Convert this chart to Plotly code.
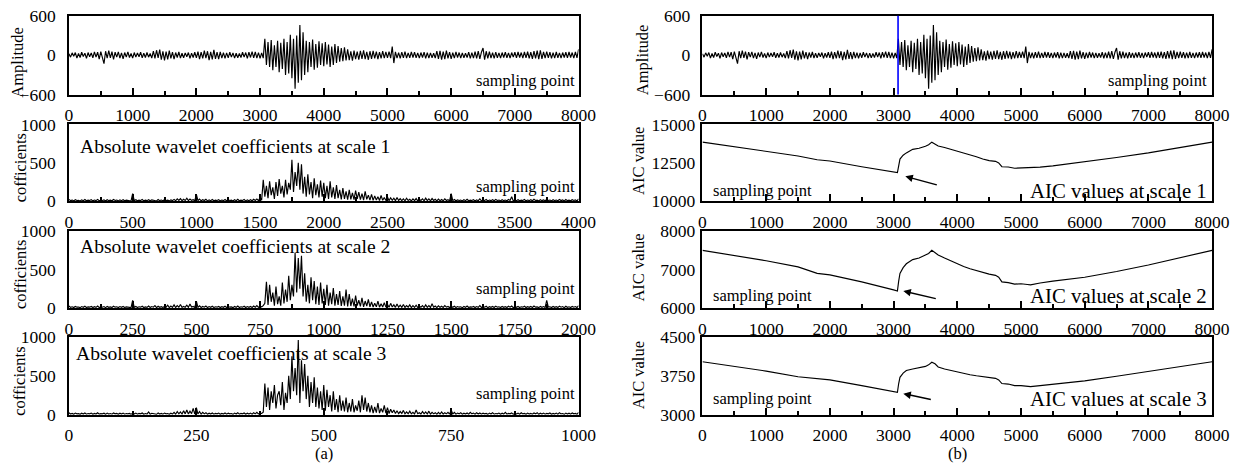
import plotly.graph_objects as go

# ---------------------------------------------------------------- data
# raw microseismic waveform, one value every 25 samples (0 ... 8000)
wave_x = [i * 25 for i in range(321)]
wave_amp = [
    20, -30, 35, -15, 40, -45, 25, -35, 45, -20, 30, -50, 40, -25, 35, -40,
    50, -30, 45, -60, 55, -35, -130, 60, -45, 70, -40, 55, -65, 45, -30, 50,
    -45, 35, -55, 40, -30, 50, -35, 25, -45, 40, -30, 35, -25, 45, -40, 30,
    -35, 40, -30, 25, -45, 60, -50, 75, -40, 85, -70, 60, -80, 55, -65, 70,
    -50, 45, -60, 40, -35, 50, -45, 30, -40, 35, -25, 40, -50, 30, -35, 45,
    -40, 55, -60, 45, -50, 70, -45, 60, -75, 50, -65, 80, -55, 45, -60, 50,
    -45, 40, -50, 35, -40, 45, -30, 35, -45, 30, -40, 25, -35, 45, -30, 40,
    -50, 45, -35, 55, -40, 50, -45, 40, -50, 35, -45, 250, -150, 200, -180, 230,
    -230, 150, -180, 220, -260, 190, -210, 250, -300, 200, -280, 310, -350, 250, -510, 300,
    -420, 460, -380, 350, -300, 220, -260, 200, -180, 240, -220, 170, -190, 210, -150, 180,
    -170, 200, -140, 160, -180, 130, -150, 170, -120, 140, -100, 110, -90, 120, -80, 90,
    -75, 60, -85, 70, -60, 55, -70, 65, -55, 75, -60, 50, -70, 60, -55, 65,
    -50, 55, -60, 45, -50, 60, -45, 50, -40, 55, -45, 130, -120, 50, -45, 40,
    -50, 45, -40, 55, -45, 35, -40, 50, -35, 45, -40, 35, -45, 40, -35, 45,
    -50, 40, -45, 35, -40, 30, -45, 60, -55, 65, -70, 55, -60, 70, -50, 45,
    -55, 40, -45, 50, -35, 40, -45, 35, -40, 30, -35, 45, -50, 40, -45, 55,
    -50, 60, -55, 45, 110, -70, 60, -50, 55, -45, 40, -50, 45, -40, 35, -45,
    40, -35, 45, -40, 35, -45, 40, -30, 45, -40, 50, -35, 40, -45, 50, -40,
    55, -50, 45, -55, 60, -50, 70, -60, 75, -55, 50, -45, 55, -40, 45, -50,
    40, -45, 50, -40, 35, -45, 40, -35, 45, -40, 50, -35, 40, -45, 50, -40,
    90,
]

# absolute wavelet coefficients, scale 1 (0 ... 4000, every 12.5)
c1_x = [i * 12.5 for i in range(321)]
coef_s1 = [
    25, 8, 15, 5, 20, 10, 12, 4, 18, 8, 22, 6, 14, 10, 20, 5,
    16, 8, 24, 6, 12, 10, 18, 4, 20, 8, 14, 6, 22, 10, 15, 5,
    18, 8, 20, 6, 14, 10, 16, 4, 100, 8, 20, 6, 15, 10, 22, 5,
    14, 8, 20, 6, 18, 10, 12, 4, 22, 8, 16, 6, 20, 10, 14, 5,
    18, 8, 24, 6, 30, 10, 35, 8, 25, 10, 40, 8, 30, 12, 20, 6,
    90, 8, 28, 6, 20, 10, 25, 5, 18, 8, 22, 6, 15, 10, 20, 5,
    16, 8, 22, 6, 18, 10, 14, 4, 20, 8, 25, 6, 15, 10, 22, 5,
    18, 8, 20, 6, 25, 10, 30, 8, 50, 15, 280, 60, 200, 40, 260, 80,
    180, 30, 250, 70, 290, 100, 200, 50, 280, 90, 240, 150, 540, 120, 380, 200,
    500, 150, 480, 100, 320, 60, 350, 90, 250, 40, 300, 80, 220, 50, 270, 60,
    240, 40, 200, 30, 260, 50, 180, 30, 210, 40, 150, 25, 170, 30, 130, 20,
    150, 25, 110, 20, 140, 30, 120, 20, 100, 15, 130, 25, 80, 15, 90, 12,
    70, 15, 60, 10, 75, 12, 50, 10, 55, 8, 45, 12, 40, 8, 50, 10,
    35, 8, 30, 6, 40, 10, 25, 5, 30, 8, 35, 6, 25, 10, 30, 5,
    40, 8, 30, 6, 35, 10, 25, 5, 28, 8, 22, 6, 30, 10, 20, 5,
    100, 8, 22, 6, 18, 10, 15, 4, 20, 8, 25, 6, 14, 10, 20, 5,
    18, 8, 30, 6, 15, 10, 22, 4, 16, 8, 20, 6, 24, 10, 15, 5,
    20, 8, 16, 6, 22, 10, 60, 4, 18, 8, 20, 6, 15, 10, 22, 5,
    16, 8, 20, 6, 25, 10, 14, 4, 20, 8, 18, 6, 22, 10, 15, 5,
    20, 8, 16, 6, 24, 10, 18, 4, 22, 8, 15, 6, 20, 10, 18, 5,
    30,
]

# absolute wavelet coefficients, scale 2 (0 ... 2000, every 6.25)
c2_x = [i * 6.25 for i in range(321)]
coef_s2 = [
    25, 8, 15, 5, 20, 10, 12, 4, 18, 8, 22, 6, 14, 10, 20, 5,
    16, 8, 24, 6, 12, 10, 18, 4, 20, 8, 14, 6, 22, 10, 15, 5,
    18, 8, 20, 6, 14, 10, 16, 4, 100, 8, 20, 6, 15, 10, 22, 5,
    14, 8, 25, 6, 18, 10, 30, 4, 22, 8, 16, 6, 20, 10, 35, 5,
    25, 8, 40, 6, 30, 10, 45, 8, 20, 10, 35, 8, 50, 12, 20, 6,
    90, 8, 28, 6, 20, 10, 25, 5, 18, 8, 22, 6, 15, 10, 20, 5,
    16, 8, 22, 6, 18, 10, 14, 4, 20, 8, 25, 6, 15, 10, 22, 5,
    18, 8, 20, 6, 25, 10, 30, 8, 20, 15, 30, 60, 340, 40, 300, 80,
    200, 30, 280, 50, 150, 30, 330, 60, 240, 80, 420, 100, 300, 150, 720, 200,
    650, 250, 680, 150, 450, 80, 300, 60, 400, 100, 350, 50, 280, 40, 330, 60,
    250, 40, 300, 30, 200, 50, 260, 30, 180, 40, 220, 25, 150, 30, 240, 20,
    180, 25, 120, 20, 160, 30, 100, 20, 130, 15, 90, 25, 110, 15, 80, 12,
    60, 15, 90, 10, 55, 12, 70, 10, 45, 8, 60, 12, 40, 8, 50, 10,
    35, 8, 45, 6, 30, 10, 40, 5, 30, 8, 35, 6, 25, 10, 30, 5,
    40, 8, 30, 6, 55, 10, 25, 5, 28, 8, 22, 6, 30, 10, 20, 5,
    25, 8, 22, 6, 18, 10, 15, 4, 20, 8, 25, 6, 14, 10, 20, 5,
    18, 8, 30, 6, 15, 10, 22, 4, 16, 8, 20, 6, 24, 10, 15, 5,
    20, 8, 16, 6, 22, 10, 25, 4, 18, 8, 20, 6, 15, 10, 22, 5,
    16, 8, 20, 6, 25, 10, 14, 4, 20, 8, 18, 6, 100, 10, 15, 5,
    20, 8, 16, 6, 24, 10, 18, 4, 22, 8, 15, 6, 20, 10, 18, 5,
    30,
]

# absolute wavelet coefficients, scale 3 (0 ... 1000, every 3.125)
c3_x = [i * 3.125 for i in range(321)]
coef_s3 = [
    25, 8, 15, 5, 20, 10, 12, 4, 18, 8, 22, 6, 14, 10, 20, 5,
    16, 8, 24, 6, 12, 10, 18, 4, 20, 8, 14, 6, 22, 10, 15, 5,
    18, 8, 20, 6, 14, 10, 16, 4, 20, 8, 20, 6, 15, 10, 22, 5,
    14, 8, 35, 6, 18, 10, 12, 4, 22, 8, 16, 6, 20, 10, 14, 5,
    18, 8, 30, 6, 40, 10, 35, 8, 50, 10, 60, 8, 45, 12, 80, 6,
    90, 8, 40, 6, 30, 10, 25, 5, 18, 8, 22, 6, 15, 10, 20, 5,
    16, 8, 22, 6, 18, 10, 14, 4, 20, 8, 25, 6, 15, 10, 22, 5,
    18, 8, 20, 6, 25, 10, 30, 8, 20, 15, 30, 400, 100, 350, 60, 300,
    150, 380, 80, 250, 300, 120, 420, 60, 280, 150, 500, 200, 750, 300, 600, 250,
    960, 150, 700, 300, 650, 200, 500, 100, 420, 150, 480, 100, 350, 80, 300, 60,
    380, 50, 320, 100, 250, 40, 300, 60, 200, 30, 250, 50, 180, 40, 220, 30,
    150, 40, 200, 30, 120, 50, 180, 30, 250, 60, 220, 40, 150, 30, 120, 20,
    100, 25, 150, 20, 80, 30, 120, 20, 90, 15, 70, 25, 60, 15, 50, 12,
    40, 15, 55, 10, 35, 12, 45, 10, 30, 8, 60, 12, 25, 8, 40, 10,
    35, 8, 45, 6, 30, 10, 25, 5, 30, 8, 35, 6, 25, 10, 30, 5,
    60, 8, 30, 6, 20, 10, 25, 5, 18, 8, 22, 6, 30, 10, 20, 5,
    25, 8, 22, 6, 18, 10, 15, 4, 20, 8, 25, 6, 14, 10, 20, 5,
    18, 8, 30, 6, 15, 10, 22, 4, 16, 8, 20, 6, 24, 10, 15, 5,
    20, 8, 16, 6, 22, 10, 25, 4, 18, 8, 20, 6, 15, 10, 22, 5,
    16, 8, 20, 6, 25, 10, 14, 4, 20, 8, 18, 6, 22, 10, 15, 5,
    30,
]

# AIC curves at the three scales (mapped back to sampling points)
aic_x = [0, 500, 1000, 1500, 1800, 2000, 2500, 3000, 3060, 3080, 3100, 3150, 3200,
         3300, 3400, 3500, 3550, 3600, 3650, 3700, 3800, 3900, 4000, 4100, 4200,
         4300, 4400, 4500, 4600, 4650, 4700, 4800, 4900, 5000, 5100, 5150, 5300,
         5500, 6000, 6500, 7000, 7500, 8000]
aic_s1 = [13850, 13550, 13250, 12950, 12700, 12620, 12250, 11920, 11870, 12300, 12750,
          13000, 13150, 13380, 13450, 13580, 13680, 13850, 13750, 13600, 13500, 13380,
          13280, 13150, 13050, 12900, 12750, 12650, 12600, 12500, 12250, 12230, 12150,
          12170, 12180, 12150, 12220, 12300, 12560, 12850, 13150, 13480, 13850]
aic_s2 = [7500, 7370, 7230, 7070, 6900, 6860, 6680, 6470, 6440, 6700, 6900, 7050, 7150,
          7260, 7300, 7380, 7420, 7500, 7440, 7380, 7300, 7220, 7150, 7080, 7020, 6970,
          6920, 6880, 6850, 6800, 6680, 6660, 6620, 6630, 6610, 6600, 6650, 6700, 6800,
          6950, 7120, 7300, 7500]
aic_s3 = [4020, 3930, 3840, 3730, 3690, 3670, 3560, 3450, 3430, 3600, 3720, 3800, 3850,
          3880, 3900, 3930, 3960, 4010, 3980, 3920, 3880, 3850, 3820, 3790, 3770, 3750,
          3730, 3710, 3700, 3670, 3600, 3590, 3560, 3560, 3550, 3540, 3560, 3590, 3650,
          3740, 3830, 3920, 4020]

onset_point = 3070          # picked P-wave arrival

# ---------------------------------------------------------------- layout helpers
W, H = 1241, 468
FONT = "Liberation Serif, Times New Roman, serif"

# page positions below are in screen pixels; the captured page is offset and
# slightly scaled relative to figure pixels, so convert before placing
SX, OX = 0.983, 3.0
SY, OY = 0.96, 8.2


def px(x):
    return ((x - OX) / SX) / W


def py(y):
    return 1 - ((y - OY) / SY) / H


left_dom = [px(68), px(578)]
right_dom = [px(702), px(1212)]
rows = [(14, 93), (123, 200), (230, 307), (336, 414)]

fig = go.Figure()

panels = [
    # (x data, y data, x max, x tick step, y range, y ticks, column)
    (wave_x, wave_amp, 8000, 1000, (-600, 600), [-600, 0, 600], 0),
    (c1_x, coef_s1, 4000, 500, (0, 1000), [0, 500, 1000], 0),
    (c2_x, coef_s2, 2000, 250, (0, 1000), [0, 500, 1000], 0),
    (c3_x, coef_s3, 1000, 250, (0, 1000), [0, 500, 1000], 0),
    (wave_x, wave_amp, 8000, 1000, (-600, 600), [-600, 0, 600], 1),
    (aic_x, aic_s1, 8000, 1000, (10000, 15000), [10000, 12500, 15000], 1),
    (aic_x, aic_s2, 8000, 1000, (6000, 8000), [6000, 7000, 8000], 1),
    (aic_x, aic_s3, 8000, 1000, (3000, 4500), [3000, 3750, 4500], 1),
]

layout = dict(
    width=W, height=H,
    margin=dict(l=0, r=0, t=0, b=0),
    paper_bgcolor="white", plot_bgcolor="white",
    showlegend=False,
    font=dict(family=FONT, color="black", size=17.5),
)

for i, (xs, ys, xmax, dt, yr, yt, col) in enumerate(panels):
    n = i + 1
    sfx = "" if n == 1 else str(n)
    fig.add_trace(go.Scatter(
        x=xs, y=ys, mode="lines",
        line=dict(color="black", width=1.15),
        xaxis="x" + sfx, yaxis="y" + sfx,
        hoverinfo="skip",
    ))
    top, bot = rows[i % 4]
    layout["xaxis" + sfx] = dict(
        domain=left_dom if col == 0 else right_dom,
        anchor="y" + sfx,
        range=[0, xmax],
        tickvals=list(range(0, xmax + 1, dt)),
        ticks="inside", ticklen=7, tickwidth=1.5, tickcolor="black",
        minor=dict(ticks="inside", ticklen=4, tickwidth=1.5, tickcolor="black",
                   tickvals=[v + dt / 2 for v in range(0, xmax, dt)]),
        showline=True, linecolor="black", linewidth=1.6, mirror=True,
        showgrid=False, zeroline=False,
        tickfont=dict(family=FONT, size=17.5, color="black"),
        ticklabelstandoff=4,
    )
    layout["yaxis" + sfx] = dict(
        domain=[py(bot), py(top)],
        anchor="x" + sfx,
        range=list(yr),
        tickvals=yt,
        tickformat="d",
        ticks="",
        showline=True, linecolor="black", linewidth=1.6, mirror=True,
        showgrid=False, zeroline=False,
        tickfont=dict(family=FONT, size=17.5, color="black"),
        ticklabelstandoff=(8 if col == 0 else (7 if n == 5 else 2)),
    )

fig.update_layout(**layout)

# onset marker on the raw waveform
fig.add_shape(type="line", xref="x5", yref="y5 domain",
              x0=onset_point, x1=onset_point, y0=0, y1=1,
              line=dict(color="#0000ff", width=1.6))

ann = []


def text(x, y, s, size, xanchor="center", angle=0):
    ann.append(dict(x=px(x), y=py(y), xref="paper", yref="paper", text=s,
                    showarrow=False, xanchor=xanchor, yanchor="middle",
                    textangle=angle, font=dict(family=FONT, size=size, color="black")))


# axis titles
text(17, 60, "Amplitude", 16.5, angle=-90)
for yc in [166, 273, 380]:
    text(19, yc, "cofficients", 16.5, angle=-90)
text(642, 58, "Amplitude", 16.5, angle=-90)
for yc in [160, 267, 375]:
    text(638, yc, "AIC value", 16.5, angle=-90)

# panel captions
text(77, 145, "Absolute wavelet coefficients at scale 1", 19.6, xanchor="left")
text(77, 245, "Absolute wavelet coefficients at scale 2", 19.6, xanchor="left")
text(73, 353, "Absolute wavelet coefficients at scale 3", 19.6, xanchor="left")
for yc in [79, 185, 287, 393]:
    text(576, yc, "sampling point", 16.5, xanchor="right")
text(1209, 79, "sampling point", 16.5, xanchor="right")
for yc, s in [(189, "1"), (295, "2"), (398, "3")]:
    text(711, yc, "sampling point", 16.5, xanchor="left")
    text(1209, yc, "AIC values at scale " + s, 20.8, xanchor="right")

text(323, 453, "(a)", 16.5)
text(957, 453, "(b)", 16.5)

# arrows pointing at the AIC minima
for n, (hx, hy, tx, ty) in zip([6, 7, 8], [(3184, 11620, 3702, 11040),
                                           (3153, 6442, 3686, 6234),
                                           (3153, 3404, 3608, 3288)]):
    ann.append(dict(x=hx, y=hy, ax=tx, ay=ty, xref="x%d" % n, yref="y%d" % n,
                    axref="x%d" % n, ayref="y%d" % n, text="", showarrow=True,
                    arrowhead=2, arrowsize=1, arrowwidth=1.5, arrowcolor="black"))

fig.update_layout(annotations=ann)

fig.write_html("out.html")
